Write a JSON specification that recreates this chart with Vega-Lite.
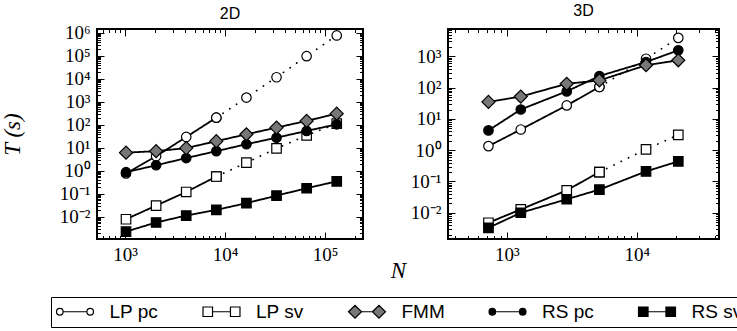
{
  "$schema": "https://vega.github.io/schema/vega-lite/v6.json",
  "padding": {"left": 0, "top": 1, "right": 0, "bottom": 0},
  "background": "white",
  "bounds": "flush",
  "spacing": 85,
  "data": {"values": [
    {"panel": "2D", "series": "LP pc", "N": 1024, "T": 0.75, "part": "solid"},
    {"panel": "2D", "series": "LP pc", "N": 2048, "T": 4.2, "part": "solid"},
    {"panel": "2D", "series": "LP pc", "N": 4096, "T": 29, "part": "solid"},
    {"panel": "2D", "series": "LP pc", "N": 8192, "T": 200, "part": "solid"},
    {"panel": "2D", "series": "LP pc", "N": 8192, "T": 200, "part": "dotted"},
    {"panel": "2D", "series": "LP pc", "N": 16384, "T": 1500, "part": "dotted"},
    {"panel": "2D", "series": "LP pc", "N": 32768, "T": 11500, "part": "dotted"},
    {"panel": "2D", "series": "LP pc", "N": 65536, "T": 95000, "part": "dotted"},
    {"panel": "2D", "series": "LP pc", "N": 131072, "T": 760000, "part": "dotted"},
    {"panel": "2D", "series": "LP sv", "N": 1024, "T": 0.0076, "part": "solid"},
    {"panel": "2D", "series": "LP sv", "N": 2048, "T": 0.030, "part": "solid"},
    {"panel": "2D", "series": "LP sv", "N": 4096, "T": 0.117, "part": "solid"},
    {"panel": "2D", "series": "LP sv", "N": 8192, "T": 0.55, "part": "solid"},
    {"panel": "2D", "series": "LP sv", "N": 8192, "T": 0.55, "part": "dotted"},
    {"panel": "2D", "series": "LP sv", "N": 16384, "T": 2.2, "part": "dotted"},
    {"panel": "2D", "series": "LP sv", "N": 32768, "T": 9.2, "part": "dotted"},
    {"panel": "2D", "series": "LP sv", "N": 65536, "T": 34, "part": "dotted"},
    {"panel": "2D", "series": "LP sv", "N": 131072, "T": 110, "part": "dotted"},
    {"panel": "2D", "series": "FMM", "N": 1024, "T": 6.0, "part": "solid"},
    {"panel": "2D", "series": "FMM", "N": 2048, "T": 7.0, "part": "solid"},
    {"panel": "2D", "series": "FMM", "N": 4096, "T": 9.5, "part": "solid"},
    {"panel": "2D", "series": "FMM", "N": 8192, "T": 19, "part": "solid"},
    {"panel": "2D", "series": "FMM", "N": 16384, "T": 38, "part": "solid"},
    {"panel": "2D", "series": "FMM", "N": 32768, "T": 74, "part": "solid"},
    {"panel": "2D", "series": "FMM", "N": 65536, "T": 145, "part": "solid"},
    {"panel": "2D", "series": "FMM", "N": 131072, "T": 300, "part": "solid"},
    {"panel": "2D", "series": "RS pc", "N": 1024, "T": 0.85, "part": "solid"},
    {"panel": "2D", "series": "RS pc", "N": 2048, "T": 1.7, "part": "solid"},
    {"panel": "2D", "series": "RS pc", "N": 4096, "T": 3.5, "part": "solid"},
    {"panel": "2D", "series": "RS pc", "N": 8192, "T": 7, "part": "solid"},
    {"panel": "2D", "series": "RS pc", "N": 16384, "T": 14, "part": "solid"},
    {"panel": "2D", "series": "RS pc", "N": 32768, "T": 27, "part": "solid"},
    {"panel": "2D", "series": "RS pc", "N": 65536, "T": 53, "part": "solid"},
    {"panel": "2D", "series": "RS pc", "N": 131072, "T": 103, "part": "solid"},
    {"panel": "2D", "series": "RS sv", "N": 1024, "T": 0.0022, "part": "solid"},
    {"panel": "2D", "series": "RS sv", "N": 2048, "T": 0.0055, "part": "solid"},
    {"panel": "2D", "series": "RS sv", "N": 4096, "T": 0.011, "part": "solid"},
    {"panel": "2D", "series": "RS sv", "N": 8192, "T": 0.0195, "part": "solid"},
    {"panel": "2D", "series": "RS sv", "N": 16384, "T": 0.038, "part": "solid"},
    {"panel": "2D", "series": "RS sv", "N": 32768, "T": 0.081, "part": "solid"},
    {"panel": "2D", "series": "RS sv", "N": 65536, "T": 0.17, "part": "solid"},
    {"panel": "2D", "series": "RS sv", "N": 131072, "T": 0.34, "part": "solid"},
    {"panel": "3D", "series": "LP pc", "N": 723, "T": 1.35, "part": "solid"},
    {"panel": "3D", "series": "LP pc", "N": 1282, "T": 4.6, "part": "solid"},
    {"panel": "3D", "series": "LP pc", "N": 2894, "T": 27, "part": "solid"},
    {"panel": "3D", "series": "LP pc", "N": 5164, "T": 105, "part": "solid"},
    {"panel": "3D", "series": "LP pc", "N": 5164, "T": 105, "part": "dotted"},
    {"panel": "3D", "series": "LP pc", "N": 11800, "T": 840, "part": "dotted"},
    {"panel": "3D", "series": "LP pc", "N": 20900, "T": 3900, "part": "dotted"},
    {"panel": "3D", "series": "LP sv", "N": 723, "T": 0.0048, "part": "solid"},
    {"panel": "3D", "series": "LP sv", "N": 1282, "T": 0.0128, "part": "solid"},
    {"panel": "3D", "series": "LP sv", "N": 2894, "T": 0.052, "part": "solid"},
    {"panel": "3D", "series": "LP sv", "N": 5164, "T": 0.2, "part": "solid"},
    {"panel": "3D", "series": "LP sv", "N": 5164, "T": 0.2, "part": "dotted"},
    {"panel": "3D", "series": "LP sv", "N": 11800, "T": 1.07, "part": "dotted"},
    {"panel": "3D", "series": "LP sv", "N": 20900, "T": 3.1, "part": "dotted"},
    {"panel": "3D", "series": "FMM", "N": 723, "T": 35, "part": "solid"},
    {"panel": "3D", "series": "FMM", "N": 1282, "T": 52, "part": "solid"},
    {"panel": "3D", "series": "FMM", "N": 2894, "T": 133, "part": "solid"},
    {"panel": "3D", "series": "FMM", "N": 5164, "T": 170, "part": "solid"},
    {"panel": "3D", "series": "FMM", "N": 11800, "T": 520, "part": "solid"},
    {"panel": "3D", "series": "FMM", "N": 20900, "T": 750, "part": "solid"},
    {"panel": "3D", "series": "RS pc", "N": 723, "T": 4.3, "part": "solid"},
    {"panel": "3D", "series": "RS pc", "N": 1282, "T": 20, "part": "solid"},
    {"panel": "3D", "series": "RS pc", "N": 2894, "T": 76, "part": "solid"},
    {"panel": "3D", "series": "RS pc", "N": 5164, "T": 235, "part": "solid"},
    {"panel": "3D", "series": "RS pc", "N": 11800, "T": 660, "part": "solid"},
    {"panel": "3D", "series": "RS pc", "N": 20900, "T": 1560, "part": "solid"},
    {"panel": "3D", "series": "RS sv", "N": 723, "T": 0.0033, "part": "solid"},
    {"panel": "3D", "series": "RS sv", "N": 1282, "T": 0.010, "part": "solid"},
    {"panel": "3D", "series": "RS sv", "N": 2894, "T": 0.027, "part": "solid"},
    {"panel": "3D", "series": "RS sv", "N": 5164, "T": 0.055, "part": "solid"},
    {"panel": "3D", "series": "RS sv", "N": 11800, "T": 0.21, "part": "solid"},
    {"panel": "3D", "series": "RS sv", "N": 20900, "T": 0.44, "part": "solid"}
  ]},
  "config": {
    "view": {"stroke": "black", "strokeWidth": 2},
    "axis": {
      "grid": false, "domain": false, "tickColor": "black", "tickWidth": 1,
      "labelFont": "Liberation Serif", "labelFontSize": 19, "labelColor": "black",
      "titleFont": "Liberation Serif", "titleFontSize": 23, "titleFontStyle": "italic",
      "titleFontWeight": "normal", "titleColor": "black",
      "labelOverlap": false, "labelFlush": false
    },
    "title": {"font": "Liberation Sans", "fontSize": 16, "fontWeight": "normal", "color": "black", "offset": 2},
    "legend": {
      "labelFont": "Liberation Sans", "labelFontSize": 19, "labelColor": "black",
      "symbolSize": 196, "symbolStrokeWidth": 1.2, "symbolStrokeColor": "black",
      "padding": 5, "labelOffset": 25, "symbolOffset": 9.5, "columnPadding": 41.5,
      "rowPadding": 0, "strokeColor": "black", "labelLimit": 300
    }
  },
  "hconcat": [
    {
      "width": 266, "height": 210,
      "title": "2D",
      "transform": [{"filter": "datum.panel == '2D'"}],
      "resolve": {"axis": {"x": "independent", "y": "independent"}},
      "layer": [
        {
          "mark": {"type": "line", "color": "black", "strokeWidth": 1.8, "strokeCap": "round"},
          "encoding": {
            "x": {"field": "N", "type": "quantitative",
              "scale": {"type": "log", "domain": [525, 240000], "nice": false},
              "axis": {"orient": "bottom", "title": "N", "titleX": 301, "titlePadding": -8,
                "values": [600,700,800,900,1000,2000,3000,4000,5000,6000,7000,8000,9000,10000,20000,30000,40000,50000,60000,70000,80000,90000,100000,200000],
                "labelExpr": "abs(log(datum.value)/LN10-round(log(datum.value)/LN10))<0.000001 ? '10' + (round(log(datum.value)/LN10)<0 ? '⁻' : '') + ['⁰','¹','²','³','⁴','⁵','⁶','⁷','⁸','⁹'][abs(round(log(datum.value)/LN10))] : ''",
                "tickSize": {"condition": {"test": "abs(log(datum.value)/LN10-round(log(datum.value)/LN10))<0.000001", "value": -7}, "value": -3.5},
                "labelPadding": 13}},
            "y": {"field": "T", "type": "quantitative",
              "scale": {"type": "log", "domain": [0.00105, 1450000], "nice": false},
              "axis": {"orient": "left", "title": "T (s)", "titlePadding": 35,
                "values": [0.002,0.003,0.004,0.005,0.006,0.007,0.008,0.009,0.01,0.02,0.03,0.04,0.05,0.06,0.07,0.08,0.09,0.1,0.2,0.3,0.4,0.5,0.6,0.7,0.8,0.9,1,2,3,4,5,6,7,8,9,10,20,30,40,50,60,70,80,90,100,200,300,400,500,600,700,800,900,1000,2000,3000,4000,5000,6000,7000,8000,9000,10000,20000,30000,40000,50000,60000,70000,80000,90000,100000,200000,300000,400000,500000,600000,700000,800000,900000,1000000],
                "labelExpr": "abs(log(datum.value)/LN10-round(log(datum.value)/LN10))<0.000001 ? '10' + (round(log(datum.value)/LN10)<0 ? '⁻' : '') + ['⁰','¹','²','³','⁴','⁵','⁶','⁷','⁸','⁹'][abs(round(log(datum.value)/LN10))] : ''",
                "tickSize": {"condition": {"test": "abs(log(datum.value)/LN10-round(log(datum.value)/LN10))<0.000001", "value": -7}, "value": -3.5},
                "labelPadding": 14}},
            "detail": {"field": "series"},
            "strokeDash": {"field": "part", "type": "nominal",
              "scale": {"domain": ["solid", "dotted"], "range": [[1, 0], [0.1, 8]]}, "legend": null}
          }
        },
        {
          "transform": [{"filter": "datum.series != 'FMM'"}],
          "mark": {"type": "point", "filled": true, "stroke": "black", "strokeWidth": 1.2, "opacity": 1, "size": 90},
          "encoding": {
            "x": {"field": "N", "type": "quantitative",
              "scale": {"type": "log", "domain": [525, 240000], "nice": false},
              "axis": {"orient": "top", "title": null, "labels": false,
                "values": [600,700,800,900,1000,2000,3000,4000,5000,6000,7000,8000,9000,10000,20000,30000,40000,50000,60000,70000,80000,90000,100000,200000],
                "tickSize": {"condition": {"test": "abs(log(datum.value)/LN10-round(log(datum.value)/LN10))<0.000001", "value": -7}, "value": -3.5}}},
            "y": {"field": "T", "type": "quantitative",
              "scale": {"type": "log", "domain": [0.00105, 1450000], "nice": false},
              "axis": {"orient": "right", "title": null, "labels": false,
                "values": [0.002,0.003,0.004,0.005,0.006,0.007,0.008,0.009,0.01,0.02,0.03,0.04,0.05,0.06,0.07,0.08,0.09,0.1,0.2,0.3,0.4,0.5,0.6,0.7,0.8,0.9,1,2,3,4,5,6,7,8,9,10,20,30,40,50,60,70,80,90,100,200,300,400,500,600,700,800,900,1000,2000,3000,4000,5000,6000,7000,8000,9000,10000,20000,30000,40000,50000,60000,70000,80000,90000,100000,200000,300000,400000,500000,600000,700000,800000,900000,1000000],
                "tickSize": {"condition": {"test": "abs(log(datum.value)/LN10-round(log(datum.value)/LN10))<0.000001", "value": -7}, "value": -3.5}}},
            "shape": {"field": "series", "type": "nominal",
              "scale": {"domain": ["FMM", "LP pc", "LP sv", "RS pc", "RS sv"], "range": ["diamond", "circle", "square", "circle", "square"]},
              "legend": null},
            "fill": {"field": "series", "type": "nominal",
              "scale": {"domain": ["LP pc", "LP sv", "FMM", "RS pc", "RS sv"], "range": ["white", "white", "#777777", "black", "black"]},
              "legend": {"orient": "none", "legendX": -46, "legendY": 268, "direction": "horizontal", "columns": 5, "title": null,
                "symbolStrokeColor": "black", "symbolStrokeWidth": 1.2,
                "symbolType": {"expr": "datum.value == 'FMM' ? 'M-2.64,0L-1.71,-0.93L-0.78,0L-1.71,0.93ZM-0.78,0L0.78,0M0.78,0L1.71,-0.93L2.64,0L1.71,0.93Z' : (datum.value == 'LP sv' || datum.value == 'RS sv') ? 'M-2.64,-0.68L-1.28,-0.68L-1.28,0.68L-2.64,0.68ZM-1.28,0L1.28,0M1.28,-0.68L2.64,-0.68L2.64,0.68L1.28,0.68Z' : 'M-2.64,0A0.47,0.47,0,1,1,-1.7,0A0.47,0.47,0,1,1,-2.64,0ZM-1.7,0L1.7,0M1.7,0A0.47,0.47,0,1,1,2.64,0A0.47,0.47,0,1,1,1.7,0Z'"},
                "encode": {
                  "symbols": {
                    "stroke": {"value": "black"},
                    "strokeWidth": {"value": 1.2}
                  },
                  "legend": {"stroke": {"value": "black"}, "strokeWidth": {"value": 2}}
                }}}
          }
        },
        {
          "transform": [{"filter": "datum.series == 'FMM'"}],
          "mark": {"type": "point", "filled": true, "stroke": "black", "strokeWidth": 1.2, "opacity": 1, "size": 170},
          "encoding": {
            "x": {"field": "N", "type": "quantitative", "axis": null},
            "y": {"field": "T", "type": "quantitative", "axis": null},
            "shape": {"field": "series", "type": "nominal"},
            "fill": {"field": "series", "type": "nominal"}
          }
        }
      ]
    },
    {
      "width": 271, "height": 210,
      "title": "3D",
      "transform": [{"filter": "datum.panel == '3D'"}],
      "resolve": {"axis": {"x": "independent", "y": "independent"}},
      "layer": [
        {
          "mark": {"type": "line", "color": "black", "strokeWidth": 1.8, "strokeCap": "round"},
          "encoding": {
            "x": {"field": "N", "type": "quantitative",
              "scale": {"type": "log", "domain": [353, 43000], "nice": false},
              "axis": {"orient": "bottom", "title": null,
                "values": [400,500,600,700,800,900,1000,2000,3000,4000,5000,6000,7000,8000,9000,10000,20000,30000,40000],
                "labelExpr": "abs(log(datum.value)/LN10-round(log(datum.value)/LN10))<0.000001 ? '10' + (round(log(datum.value)/LN10)<0 ? '⁻' : '') + ['⁰','¹','²','³','⁴','⁵','⁶','⁷','⁸','⁹'][abs(round(log(datum.value)/LN10))] : ''",
                "tickSize": {"condition": {"test": "abs(log(datum.value)/LN10-round(log(datum.value)/LN10))<0.000001", "value": -7}, "value": -3.5},
                "labelPadding": 13}},
            "y": {"field": "T", "type": "quantitative",
              "scale": {"type": "log", "domain": [0.00145, 7500], "nice": false},
              "axis": {"orient": "left", "title": null,
                "values": [0.002,0.003,0.004,0.005,0.006,0.007,0.008,0.009,0.01,0.02,0.03,0.04,0.05,0.06,0.07,0.08,0.09,0.1,0.2,0.3,0.4,0.5,0.6,0.7,0.8,0.9,1,2,3,4,5,6,7,8,9,10,20,30,40,50,60,70,80,90,100,200,300,400,500,600,700,800,900,1000,2000,3000,4000,5000,6000,7000],
                "labelExpr": "abs(log(datum.value)/LN10-round(log(datum.value)/LN10))<0.000001 ? '10' + (round(log(datum.value)/LN10)<0 ? '⁻' : '') + ['⁰','¹','²','³','⁴','⁵','⁶','⁷','⁸','⁹'][abs(round(log(datum.value)/LN10))] : ''",
                "tickSize": {"condition": {"test": "abs(log(datum.value)/LN10-round(log(datum.value)/LN10))<0.000001", "value": -7}, "value": -3.5},
                "labelPadding": 14}},
            "detail": {"field": "series"},
            "strokeDash": {"field": "part", "type": "nominal",
              "scale": {"domain": ["solid", "dotted"], "range": [[1, 0], [0.1, 8]]}, "legend": null}
          }
        },
        {
          "transform": [{"filter": "datum.series != 'FMM'"}],
          "mark": {"type": "point", "filled": true, "stroke": "black", "strokeWidth": 1.2, "opacity": 1, "size": 90},
          "encoding": {
            "x": {"field": "N", "type": "quantitative",
              "scale": {"type": "log", "domain": [353, 43000], "nice": false},
              "axis": {"orient": "top", "title": null, "labels": false,
                "values": [400,500,600,700,800,900,1000,2000,3000,4000,5000,6000,7000,8000,9000,10000,20000,30000,40000],
                "tickSize": {"condition": {"test": "abs(log(datum.value)/LN10-round(log(datum.value)/LN10))<0.000001", "value": -7}, "value": -3.5}}},
            "y": {"field": "T", "type": "quantitative",
              "scale": {"type": "log", "domain": [0.00145, 7500], "nice": false},
              "axis": {"orient": "right", "title": null, "labels": false,
                "values": [0.002,0.003,0.004,0.005,0.006,0.007,0.008,0.009,0.01,0.02,0.03,0.04,0.05,0.06,0.07,0.08,0.09,0.1,0.2,0.3,0.4,0.5,0.6,0.7,0.8,0.9,1,2,3,4,5,6,7,8,9,10,20,30,40,50,60,70,80,90,100,200,300,400,500,600,700,800,900,1000,2000,3000,4000,5000,6000,7000],
                "tickSize": {"condition": {"test": "abs(log(datum.value)/LN10-round(log(datum.value)/LN10))<0.000001", "value": -7}, "value": -3.5}}},
            "shape": {"field": "series", "type": "nominal"},
            "fill": {"field": "series", "type": "nominal"}
          }
        },
        {
          "transform": [{"filter": "datum.series == 'FMM'"}],
          "mark": {"type": "point", "filled": true, "stroke": "black", "strokeWidth": 1.2, "opacity": 1, "size": 170},
          "encoding": {
            "x": {"field": "N", "type": "quantitative", "axis": null},
            "y": {"field": "T", "type": "quantitative", "axis": null},
            "shape": {"field": "series", "type": "nominal"},
            "fill": {"field": "series", "type": "nominal"}
          }
        }
      ]
    }
  ]
}
